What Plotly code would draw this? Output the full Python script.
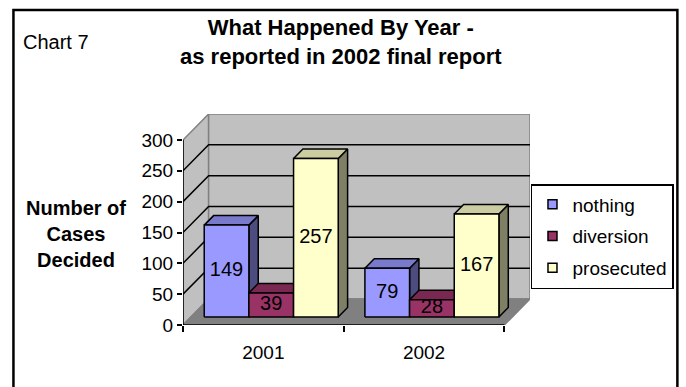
import plotly.graph_objects as go

# ---------------- data ----------------
categories = ["2001", "2002"]
series_names = ["nothing", "diversion", "prosecuted"]
nothing = [149, 79]
diversion = [39, 28]
prosecuted = [257, 167]
y_ticks = [0, 50, 100, 150, 200, 250, 300]
series_values = [nothing, diversion, prosecuted]
series_colors = ["#9999FF", "#993366", "#FFFFCC"]

# ---------------- geometry / style ----------------
W, H = 686, 387
L, R, T, B = 183, 151, 114, 62
pw, ph = W - L - R, H - T - B
depth_px = 26
y_max = y_ticks[-1]
ncat = len(categories)
kx = (pw - depth_px) / ncat          # px per category unit
ky = (ph - depth_px) / y_max         # px per value unit
DX = depth_px / kx
DY = depth_px / ky
f0, f1 = 8 / 26, 17.5 / 26           # bar depth placement (fraction of depth)
bw = 0.278                           # bar width in category units
FONT = "Liberation Sans, Arial, sans-serif"


def shade(hexc, f):
    r, g, b = int(hexc[1:3], 16), int(hexc[3:5], 16), int(hexc[5:7], 16)
    return f"rgb({int(r*f)},{int(g*f)},{int(b*f)})"


def poly(xs, ys, fill, line="black", lw=1.5):
    return go.Scatter(x=xs + [xs[0]], y=ys + [ys[0]], fill="toself",
                      fillcolor=fill, mode="lines",
                      line=dict(color=line, width=lw),
                      hoverinfo="skip", showlegend=False)


def line(xs, ys, color="black", lw=1.5):
    return go.Scatter(x=xs, y=ys, mode="lines", line=dict(color=color, width=lw),
                      hoverinfo="skip", showlegend=False)


fig = go.Figure()
wall = "#C0C0C0"
edge = "#808080"
# left wall
fig.add_trace(poly([0, 0, DX, DX], [0, y_max, y_max + DY, DY], wall, edge))
# back wall
fig.add_trace(poly([DX, DX, ncat + DX, ncat + DX], [DY, y_max + DY, y_max + DY, DY], wall, edge))
# floor
fig.add_trace(poly([0, ncat, ncat + DX, DX], [0, 0, DY, DY], "#808080", edge))
# gridlines
for v in y_ticks[1:-1]:
    fig.add_trace(line([0, DX, ncat + DX], [v, v + DY, v + DY]))
# front axis lines
fig.add_trace(line([0, 0], [0, y_max]))
fig.add_trace(line([0, ncat], [0, 0]))

# bars
lab_x, lab_y, lab_t = [], [], []
for i in range(ncat):
    start = i + 0.5 - 1.5 * bw
    for j, vals in enumerate(series_values):
        v = vals[i]
        c = series_colors[j]
        a = start + j * bw
        b = a + bw
        ox0, oy0 = f0 * DX, f0 * DY
        ox1, oy1 = f1 * DX, f1 * DY
        # side face
        fig.add_trace(poly([b + ox0, b + ox1, b + ox1, b + ox0],
                           [oy0, oy1, v + oy1, v + oy0], shade(c, 0.5)))
        # top face
        fig.add_trace(poly([a + ox0, b + ox0, b + ox1, a + ox1],
                           [v + oy0, v + oy0, v + oy1, v + oy1], shade(c, 0.8)))
        # front face
        fig.add_trace(poly([a + ox0, b + ox0, b + ox0, a + ox0],
                           [oy0, oy0, v + oy0, v + oy0], c))
        lab_x.append((a + b) / 2 + ox0)
        lab_y.append(v / 2 + oy0)
        lab_t.append(str(v))

fig.add_trace(go.Scatter(x=lab_x, y=lab_y, text=lab_t, mode="text",
                         textfont=dict(family=FONT, size=20, color="black"),
                         hoverinfo="skip", showlegend=False))

# legend entries
for j, name in enumerate(series_names):
    fig.add_trace(go.Scatter(x=[None], y=[None], mode="markers", name=name,
                             legendgroup=name,
                             marker=dict(symbol="square", size=9, color=series_colors[j],
                                         line=dict(color="black", width=1.5))))

# x tick marks at category boundaries (overlay axis)
fig.add_trace(go.Scatter(x=[0], y=[0], xaxis="x2", mode="none", showlegend=False,
                         hoverinfo="skip"))


def px2x(p):
    return (p - L) / pw


def px2y(p):
    return (H - B - p) / ph


fig.update_layout(
    width=W, height=H,
    margin=dict(l=L, r=R, t=T, b=B),
    paper_bgcolor="white", plot_bgcolor="white",
    font=dict(family=FONT, size=20, color="black"),
    xaxis=dict(range=[0, ncat + DX], tickvals=[i + 0.5 for i in range(ncat)],
               ticktext=categories, ticks="outside", ticklen=10,
               tickcolor="rgba(0,0,0,0)", showline=False, showgrid=False,
               zeroline=False, tickfont=dict(size=19), fixedrange=True),
    xaxis2=dict(range=[0, ncat + DX], overlaying="x", anchor="y", side="bottom",
                tickvals=list(range(ncat + 1)), ticks="outside", ticklen=6,
                tickwidth=1.5, tickcolor="black", showticklabels=False,
                showline=False, showgrid=False, zeroline=False),
    yaxis=dict(range=[0, y_max + DY], tickvals=y_ticks, ticks="outside",
               ticklen=5, tickwidth=1.5, tickcolor="black", showline=False,
               showgrid=False, zeroline=False, tickfont=dict(size=19),
               fixedrange=True),
    showlegend=True,
    legend=dict(x=px2x(536), y=px2y(184), xanchor="left", yanchor="top",
                bgcolor="white", bordercolor="black", borderwidth=1.5,
                font=dict(size=19), tracegroupgap=4, itemwidth=30),
    shapes=[dict(type="rect", xref="paper", yref="paper",
                 x0=px2x(11), x1=px2x(684.5), y0=px2y(400), y1=px2y(10),
                 line=dict(color="black", width=2.5), layer="below")],
    annotations=[
        dict(text="<b>What Happened By Year -<br>as reported in 2002 final report</b>",
             xref="paper", yref="paper", x=px2x(343), y=px2y(42),
             xanchor="center", yanchor="middle", showarrow=False,
             font=dict(size=22), align="center"),
        dict(text="Chart 7", xref="paper", yref="paper", x=px2x(19), y=px2y(42),
             xanchor="left", yanchor="middle", showarrow=False, font=dict(size=20)),
        dict(text="<b>Number of<br>Cases<br>Decided</b>", xref="paper", yref="paper",
             x=px2x(74), y=px2y(234), xanchor="center", yanchor="middle",
             showarrow=False, font=dict(size=20), align="center"),
    ],
)

fig.write_html("out.html")
